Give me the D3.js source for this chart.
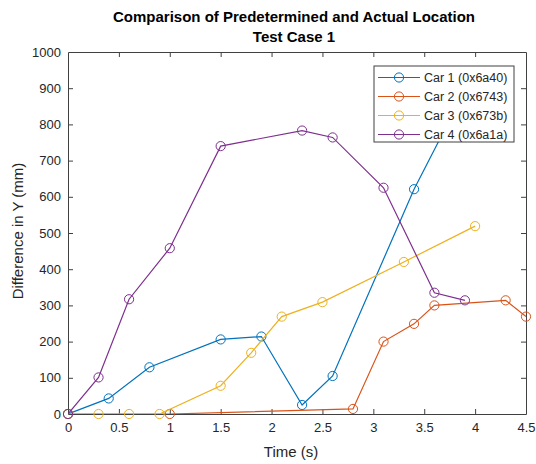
<!DOCTYPE html>
<html><head><meta charset="utf-8">
<script src="https://cdn.jsdelivr.net/npm/d3@7"></script>
<style>body{margin:0;background:#fff}svg{display:block}text{font-family:"Liberation Sans",Arial,sans-serif}</style>
</head><body>
<script>
const titleLines = ["Comparison of Predetermined and Actual Location", "Test Case 1"];
const xLabel = "Time (s)";
const yLabel = "Difference in Y (mm)";
const xTicks = [0, 0.5, 1, 1.5, 2, 2.5, 3, 3.5, 4, 4.5];
const yTicks = [0, 100, 200, 300, 400, 500, 600, 700, 800, 900, 1000];
const seriesNames = ["Car 1 (0x6a40)", "Car 2 (0x6743)", "Car 3 (0x673b)", "Car 4 (0x6a1a)"];
const seriesColors = ["#0072BD", "#D95319", "#EDB120", "#7E2F8E"];
const car1Time = [0, 0.4, 0.8, 1.5, 1.9, 2.3, 2.6, 3.4, 3.8];
const car1Y    = [0, 43, 129, 206, 214, 25, 105, 621, 840];
const car2Time = [0, 1.0, 2.8, 3.1, 3.4, 3.6, 4.3, 4.5];
const car2Y    = [0, 0, 14, 200, 249, 300, 314, 269];
const car3Time = [0, 0.3, 0.6, 0.9, 1.5, 1.8, 2.1, 2.5, 3.3, 4.0];
const car3Y    = [0, 0, 0, 0, 78, 169, 269, 309, 420, 519];
const car4Time = [0, 0.3, 0.6, 1.0, 1.5, 2.3, 2.6, 3.1, 3.6, 3.9];
const car4Y    = [0, 101, 317, 458, 740, 783, 764, 625, 335, 314];

const series = [[car1Time, car1Y], [car2Time, car2Y], [car3Time, car3Y], [car4Time, car4Y]]
  .map(([t, y], i) => ({name: seriesNames[i], color: seriesColors[i], pts: t.map((v, j) => [v, y[j]])}));

const W = 536, H = 464;
const L = 68, R = 526, T = 52, B = 414;
const svg = d3.select("body").append("svg").attr("width", W).attr("height", H);
const x = d3.scaleLinear().domain([0, 4.5]).range([L, R]);
const y = d3.scaleLinear().domain([0, 1000]).range([B, T]);
const axisColor = "#404040", textColor = "#262626";

svg.append("rect").attr("x", L).attr("y", T).attr("width", R - L).attr("height", B - T).attr("fill", "#fff");

// axes
const tl = 5;
const gx = svg.append("g").attr("transform", `translate(0,${B})`)
  .call(d3.axisBottom(x).tickValues(xTicks).tickFormat(d3.format("")).tickSizeInner(-tl).tickSizeOuter(0).tickPadding(9));
const gxt = svg.append("g").attr("transform", `translate(0,${T})`)
  .call(d3.axisTop(x).tickValues(xTicks).tickFormat("").tickSizeInner(-tl).tickSizeOuter(0));
const gy = svg.append("g").attr("transform", `translate(${L},0)`)
  .call(d3.axisLeft(y).tickValues(yTicks).tickFormat(d3.format("")).tickSizeInner(-tl).tickSizeOuter(0).tickPadding(7));
const gyr = svg.append("g").attr("transform", `translate(${R},0)`)
  .call(d3.axisRight(y).tickValues(yTicks).tickFormat("").tickSizeInner(-tl).tickSizeOuter(0));
[gx, gxt, gy, gyr].forEach(g => {
  g.select(".domain").attr("stroke", axisColor);
  g.selectAll(".tick line").attr("stroke", axisColor);
  g.selectAll(".tick text").attr("fill", textColor).style("font-size", "13px").style("font-family", "'Liberation Sans',Arial,sans-serif");
});
gx.selectAll(".tick").filter(d => d === 0 || d === 4.5).select("line").remove();
gxt.selectAll(".tick").filter(d => d === 0 || d === 4.5).select("line").remove();
gy.selectAll(".tick").filter(d => d === 0 || d === 1000).select("line").remove();
gyr.selectAll(".tick").filter(d => d === 0 || d === 1000).select("line").remove();

// clip
svg.append("clipPath").attr("id", "clip").append("rect").attr("x", L).attr("y", T).attr("width", R - L).attr("height", B - T);

const line = d3.line().x(d => x(d[0])).y(d => y(d[1]));
series.forEach(s => {
  const g = svg.append("g");
  g.append("path").datum(s.pts).attr("d", line).attr("fill", "none").attr("stroke", s.color).attr("stroke-width", 1.2).attr("clip-path", "url(#clip)");
  g.selectAll("circle").data(s.pts.filter(p => p[1] <= 1000)).join("circle")
    .attr("cx", d => x(d[0])).attr("cy", d => y(d[1])).attr("r", 4.6)
    .attr("fill", "none").attr("stroke", s.color).attr("stroke-width", 1);
});

// title
svg.append("text").attr("x", (L + R) / 2 - 3).attr("y", 22).attr("text-anchor", "middle")
  .style("font-size", "15px").style("font-weight", "bold").attr("fill", "#000").text(titleLines[0]);
svg.append("text").attr("x", (L + R) / 2 - 3).attr("y", 42).attr("text-anchor", "middle")
  .style("font-size", "15px").style("font-weight", "bold").attr("fill", "#000").text(titleLines[1]);

// axis labels
svg.append("text").attr("x", (L + R) / 2 - 6).attr("y", 457).attr("text-anchor", "middle")
  .style("font-size", "15px").attr("fill", textColor).text(xLabel);
svg.append("text").attr("transform", `translate(23,${(T + B) / 2 - 2}) rotate(-90)`).attr("text-anchor", "middle")
  .style("font-size", "15px").attr("fill", textColor).text(yLabel);

// legend
const lg = svg.append("g");
const lx = 374, ly = 66, lw = 140, lh = 76;
lg.append("rect").attr("x", lx).attr("y", ly).attr("width", lw).attr("height", lh).attr("fill", "#fff").attr("stroke", axisColor).attr("stroke-width", 1);
series.forEach((s, i) => {
  const yy = ly + 11.5 + i * 19;
  lg.append("line").attr("x1", lx + 4).attr("x2", lx + 46).attr("y1", yy).attr("y2", yy).attr("stroke", s.color).attr("stroke-width", 1.2);
  lg.append("circle").attr("cx", lx + 25).attr("cy", yy).attr("r", 4.6).attr("fill", "none").attr("stroke", s.color);
  lg.append("text").attr("x", lx + 50).attr("y", yy + 4).style("font-size", "12.5px").attr("fill", textColor).text(s.name);
});
</script>
</body></html>
